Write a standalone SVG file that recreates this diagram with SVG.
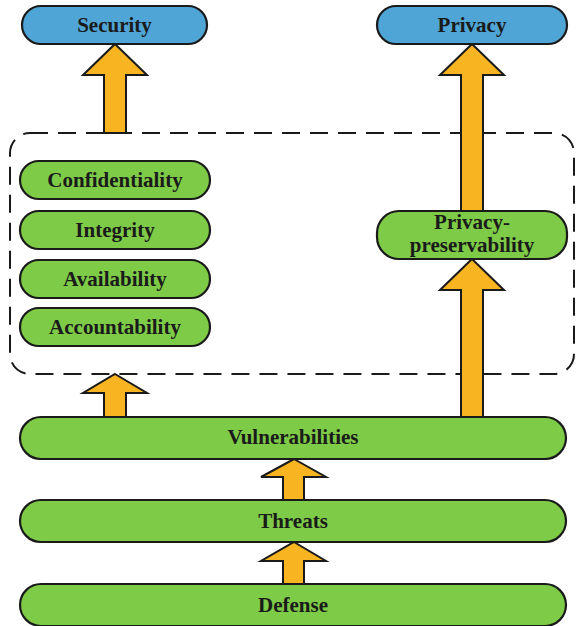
<svg xmlns="http://www.w3.org/2000/svg" width="576" height="626" viewBox="0 0 576 626">
  <style>
    .node rect { stroke: #1a1a1a; stroke-width: 2.2; }
    .blue rect { fill: #4fa5d6; }
    .green rect { fill: #7ecb47; }
    .lbl { font-family: "Liberation Serif", "Times New Roman", serif; font-weight: bold; font-size: 21px; fill: #1a1a1a; text-anchor: middle; }
    .arrow { fill: #f8b521; stroke: #1a1a1a; stroke-width: 2; stroke-linejoin: miter; }
    .frame { fill: none; stroke: #1a1a1a; stroke-width: 2; stroke-dasharray: 18 10; }
  </style>

  <!-- dashed grouping frame around the security properties -->
  <rect class="frame" x="10" y="133" width="564" height="241" rx="20"/>

  <!-- block arrows -->
  <g id="connectors">
    <polygon class="arrow" points="115,44 147,75 126,75 126,133 104,133 104,75 83,75"/>
    <polygon class="arrow" points="472,44 504,75 483,75 483,211 461,211 461,75 440,75"/>
    <polygon class="arrow" points="472,259 504,290 483,290 483,417 461,417 461,290 440,290"/>
    <polygon class="arrow" points="115,374 147,393 126,393 126,417 104,417 104,393 83,393"/>
    <polygon class="arrow" points="294,459 326,477 304,477 304,500 283,500 283,477 261,477"/>
    <polygon class="arrow" points="294,542 326,561 304,561 304,584 283,584 283,561 261,561"/>
  </g>

  <g id="security" class="node blue">
    <rect x="22" y="6" width="185" height="38" rx="19"/>
    <text class="lbl" x="114.5" y="32">Security</text>
  </g>
  <g id="privacy" class="node blue">
    <rect x="377" y="6" width="190" height="38" rx="19"/>
    <text class="lbl" x="472" y="32">Privacy</text>
  </g>

  <g id="confidentiality" class="node green">
    <rect x="20" y="161" width="190" height="38" rx="19"/>
    <text class="lbl" x="115" y="187">Confidentiality</text>
  </g>
  <g id="integrity" class="node green">
    <rect x="20" y="211" width="190" height="38" rx="19"/>
    <text class="lbl" x="115" y="237">Integrity</text>
  </g>
  <g id="availability" class="node green">
    <rect x="20" y="260" width="190" height="38" rx="19"/>
    <text class="lbl" x="115" y="286">Availability</text>
  </g>
  <g id="accountability" class="node green">
    <rect x="20" y="308" width="190" height="38" rx="19"/>
    <text class="lbl" x="115" y="334">Accountability</text>
  </g>

  <g id="privacy-preservability" class="node green">
    <rect x="377" y="211" width="190" height="48" rx="22"/>
    <text class="lbl" x="472" y="229">Privacy-</text>
    <text class="lbl" x="472" y="252">preservability</text>
  </g>

  <g id="vulnerabilities" class="node green">
    <rect x="20" y="417" width="546" height="42" rx="21"/>
    <text class="lbl" x="293" y="444">Vulnerabilities</text>
  </g>
  <g id="threats" class="node green">
    <rect x="20" y="500" width="546" height="42" rx="21"/>
    <text class="lbl" x="293" y="528">Threats</text>
  </g>
  <g id="defense" class="node green">
    <rect x="20" y="584" width="546" height="42" rx="21"/>
    <text class="lbl" x="293" y="612">Defense</text>
  </g>
</svg>
